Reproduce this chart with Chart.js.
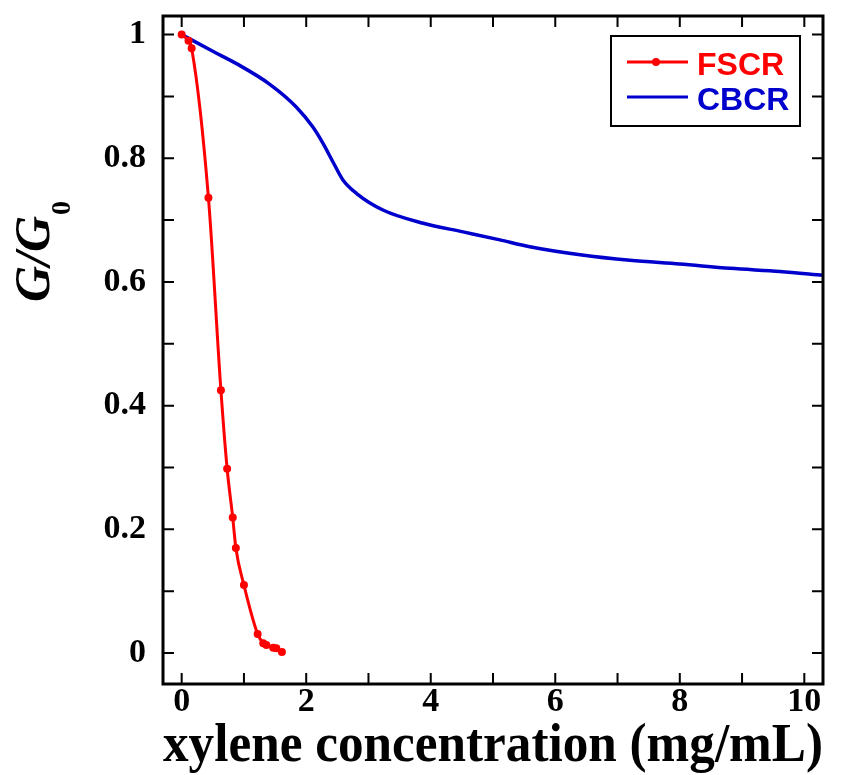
<!DOCTYPE html>
<html>
<head>
<meta charset="utf-8">
<title>G/G0 vs xylene concentration</title>
<script src="https://cdn.jsdelivr.net/npm/chart.js@4.4.1/dist/chart.umd.min.js"></script>
<style>
  html, body { margin: 0; padding: 0; background: #fff; }
  #wrap { width: 864px; height: 775px; position: relative; }
</style>
</head>
<body>
<div id="wrap"><canvas id="sensorChart"></canvas></div>
<script>
// values
const fscrX = [0, 0.11, 0.16, 0.43, 0.63, 0.73, 0.82, 0.87, 1.0, 1.22, 1.31, 1.36, 1.47, 1.52, 1.61];
const fscrY = [1.0, 0.99, 0.978, 0.736, 0.425, 0.298, 0.219, 0.17, 0.11, 0.031, 0.016, 0.013, 0.0085, 0.0076, 0.0016];

const cbcrX = [0, 0.5, 0.88, 1.41, 1.84, 2.11, 2.27, 2.43, 2.59, 2.81, 3.24, 3.88, 4.52, 5.11, 5.59, 6.4, 7.2, 8.0, 8.81, 9.61, 10.3];
const cbcrY = [1.0, 0.973, 0.953, 0.92, 0.883, 0.85, 0.824, 0.794, 0.765, 0.743, 0.716, 0.695, 0.681, 0.668, 0.657, 0.644, 0.635, 0.629, 0.622, 0.617, 0.611];

const xTicks = [0, 2, 4, 6, 8, 10];
const xTickLabels = ["0", "2", "4", "6", "8", "10"];
const xMinorTicks = [0, 1, 2, 3, 4, 5, 6, 7, 8, 9, 10];
const yTicks = [0, 0.2, 0.4, 0.6, 0.8, 1];
const yTickLabels = ["0", "0.2", "0.4", "0.6", "0.8", "1"];
const yMinorTicks = [0, 0.1, 0.2, 0.3, 0.4, 0.5, 0.6, 0.7, 0.8, 0.9, 1];

const seriesNames = ["FSCR", "CBCR"];
const xTitle = "xylene concentration (mg/mL)";

const RED = "#ff0000";
const BLUE = "#0000cc";
const SERIF = "'Liberation Serif', 'Times New Roman', serif";

function toPoints(xs, ys) {
    return xs.map((x, i) => ({ x: x, y: ys[i] }));
}

// frame with inward ticks on all four sides
const framePlugin = {
    id: "frame",
    afterDatasetsDraw(chart) {
        const ctx = chart.ctx;
        const a = chart.chartArea;
        const xs = chart.scales.x;
        const ys = chart.scales.y;
        const len = 11;
        ctx.save();
        ctx.strokeStyle = "#000";
        ctx.lineWidth = 2;
        ctx.beginPath();
        xMinorTicks.forEach(v => {
            const px = xs.getPixelForValue(v);
            ctx.moveTo(px, a.bottom); ctx.lineTo(px, a.bottom - len);
            ctx.moveTo(px, a.top); ctx.lineTo(px, a.top + len);
        });
        yMinorTicks.forEach(v => {
            const py = ys.getPixelForValue(v);
            ctx.moveTo(a.left, py); ctx.lineTo(a.left + len, py);
            ctx.moveTo(a.right, py); ctx.lineTo(a.right - len, py);
        });
        ctx.stroke();
        ctx.lineWidth = 3;
        ctx.strokeRect(a.left, a.top, a.right - a.left, a.bottom - a.top);
        ctx.restore();
    }
};

// boxed legend in the upper right, and the G/G0 axis title
const labelPlugin = {
    id: "labels",
    afterDraw(chart) {
        const ctx = chart.ctx;
        const a = chart.chartArea;
        ctx.save();

        const bx = a.right - 212, by = a.top + 20, bw = 189, bh = 90;
        ctx.lineWidth = 2;
        ctx.strokeStyle = "#000";
        ctx.strokeRect(bx, by, bw, bh);
        const colors = [RED, BLUE];
        const rows = [by + 26, by + 61];
        ctx.font = "bold 32px 'Liberation Sans', Arial, sans-serif";
        ctx.textBaseline = "alphabetic";
        seriesNames.forEach((name, i) => {
            ctx.strokeStyle = colors[i];
            ctx.lineWidth = 3;
            ctx.beginPath();
            ctx.moveTo(bx + 16, rows[i]);
            ctx.lineTo(bx + 77, rows[i]);
            ctx.stroke();
            if (i === 0) {
                ctx.fillStyle = colors[i];
                ctx.beginPath();
                ctx.arc(bx + 45, rows[i], 4, 0, Math.PI * 2);
                ctx.fill();
            }
            ctx.fillStyle = colors[i];
            ctx.fillText(name, bx + 86, rows[i] + 13);
        });

        // rotated y title: G/G with subscript 0
        ctx.translate(a.left - 114, (a.top + a.bottom) / 2 - 98);
        ctx.rotate(-Math.PI / 2);
        ctx.fillStyle = "#000";
        const mainFont = "italic bold 50px " + SERIF;
        const subFont = "bold 28px " + SERIF;
        ctx.font = mainFont;
        const main = "G/G";
        const wMain = ctx.measureText(main).width;
        ctx.font = subFont;
        const wSub = ctx.measureText("0").width;
        const start = -(wMain + wSub) / 2;
        ctx.textBaseline = "alphabetic";
        ctx.font = mainFont;
        ctx.fillText(main, start, 0);
        ctx.font = subFont;
        ctx.fillText("0", start + wMain + 1, 21);
        ctx.restore();
    }
};

const ctx = document.getElementById("sensorChart").getContext("2d");

new Chart(ctx, {
    type: "line",
    data: {
        datasets: [
            {
                label: seriesNames[0],
                data: toPoints(fscrX, fscrY),
                borderColor: RED,
                backgroundColor: RED,
                borderWidth: 3,
                pointRadius: 4,
                pointBorderWidth: 0,
                pointBackgroundColor: RED,
                cubicInterpolationMode: "monotone",
                fill: false
            },
            {
                label: seriesNames[1],
                data: toPoints(cbcrX, cbcrY),
                borderColor: BLUE,
                backgroundColor: BLUE,
                borderWidth: 3.5,
                pointRadius: 0,
                cubicInterpolationMode: "monotone",
                fill: false
            }
        ]
    },
    options: {
        responsive: true,
        maintainAspectRatio: false,
        animation: false,
        layout: { padding: { top: 16, right: 41, left: 0, bottom: 0 } },
        plugins: {
            legend: { display: false },
            tooltip: { enabled: false }
        },
        scales: {
            x: {
                type: "linear",
                min: -0.3,
                max: 10.3,
                grid: { display: false, drawTicks: false },
                border: { display: false },
                afterBuildTicks: s => { s.ticks = xTicks.map(v => ({ value: v })); },
                afterFit: s => { s.height = 91; s.paddingLeft = 0; s.paddingRight = 0; },
                ticks: {
                    color: "#000",
                    padding: -2,
                    maxRotation: 0,
                    callback: (v) => xTickLabels[xTicks.indexOf(v)],
                    font: { family: SERIF, size: 34, weight: "bold" }
                },
                title: {
                    display: true,
                    text: xTitle,
                    color: "#000",
                    padding: { top: 0, bottom: 0 },
                    font: { family: SERIF, size: 54, weight: "bold", lineHeight: 1.05 }
                }
            },
            y: {
                min: -0.05,
                max: 1.03,
                grid: { display: false, drawTicks: false },
                border: { display: false },
                afterBuildTicks: s => { s.ticks = yTicks.map(v => ({ value: v })); },
                afterFit: s => { s.width = 163; s.paddingTop = 0; s.paddingBottom = 0; },
                ticks: {
                    color: "#000",
                    padding: 17,
                    callback: (v) => yTickLabels[yTicks.indexOf(v)],
                    font: { family: SERIF, size: 34, weight: "bold" }
                }
            }
        }
    },
    plugins: [framePlugin, labelPlugin]
});
</script>
</body>
</html>
